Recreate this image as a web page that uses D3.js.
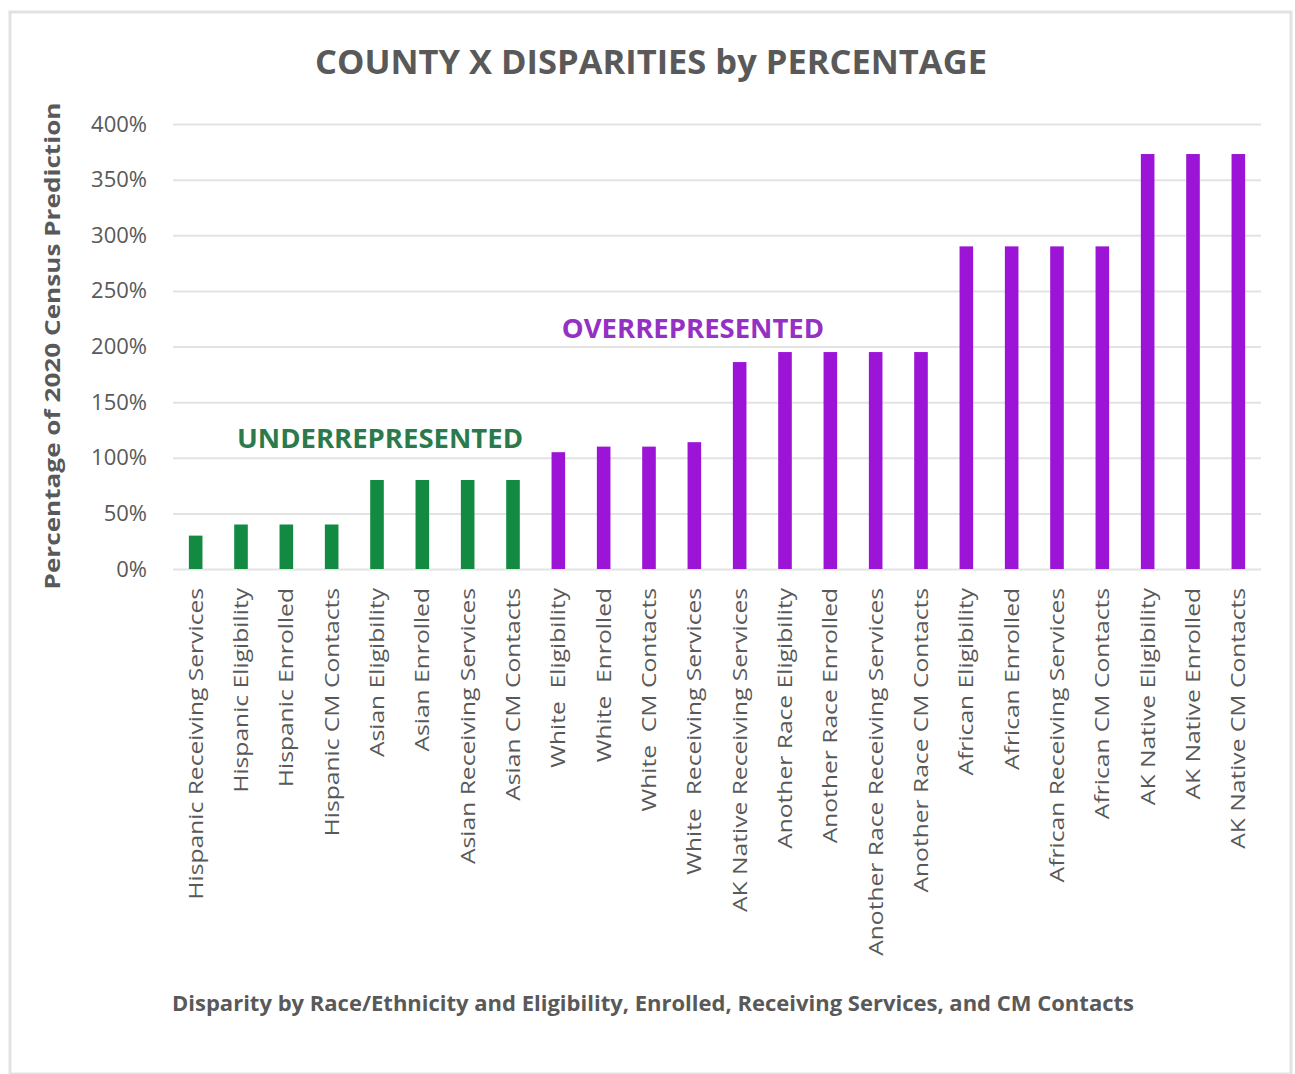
<!DOCTYPE html>
<html>
<head>
<meta charset="utf-8">
<script src="https://cdn.jsdelivr.net/npm/d3@7"></script>
<style>
  html, body { margin: 0; padding: 0; background: #ffffff; }
  svg { display: block; }
  text { font-family: "Open Sans", "Noto Sans", sans-serif; }
</style>
</head>
<body>
<svg id="chart" width="1295" height="1074"></svg>
<script>
// Category labels, left to right
const categories = [
  "Hispanic Receiving Services", "Hispanic Eligibility", "Hispanic Enrolled", "Hispanic CM Contacts",
  "Asian Eligibility", "Asian Enrolled", "Asian Receiving Services", "Asian CM Contacts",
  "White  Eligibility", "White  Enrolled", "White  CM Contacts", "White  Receiving Services",
  "AK Native Receiving Services", "Another Race Eligibility", "Another Race Enrolled",
  "Another Race Receiving Services", "Another Race CM Contacts",
  "African Eligibility", "African Enrolled", "African Receiving Services", "African CM Contacts",
  "AK Native Eligibility", "AK Native Enrolled", "AK Native CM Contacts"
];
// Percentage of the 2020 census prediction
const values = [30, 40, 40, 40, 80, 80, 80, 80, 105, 110, 110, 114, 186, 195, 195, 195, 195, 290, 290, 290, 290, 373, 373, 373];
// Representation group for each bar
const groups = ["under", "under", "under", "under", "under", "under", "under", "under",
  "over", "over", "over", "over", "over", "over", "over", "over", "over",
  "over", "over", "over", "over", "over", "over", "over"];
const yTicks = [0, 50, 100, 150, 200, 250, 300, 350, 400];
const groupColors = { under: "#138a41", over: "#9c14d6" };
const groupLabelColors = { under: "#2a7a4c", over: "#9530c4" };

const svg = d3.select("#chart");
const margin = { left: 173, right: 1261, top: 124, bottom: 569 };

const x = d3.scaleBand().domain(categories).range([margin.left, margin.right])
  .paddingInner(0.7).paddingOuter(0.35);
const y = d3.scaleLinear().domain([0, 400]).range([margin.bottom, margin.top]);

// Vertical text runs a bit longer than its glyph size would give
const stretch = 1.33;
function elongate(sel, factor) {
  sel.each(function () {
    const len = this.getComputedTextLength();
    d3.select(this).attr("textLength", len * factor).attr("lengthAdjust", "spacingAndGlyphs");
  });
}

// Outer frame
svg.append("rect")
  .attr("x", 10).attr("y", 12).attr("width", 1281).attr("height", 1062)
  .attr("fill", "none").attr("stroke", "#e2e2e2").attr("stroke-width", 3);

// Title
svg.append("text")
  .attr("x", 651).attr("y", 74)
  .attr("text-anchor", "middle")
  .attr("font-size", 34.5).attr("font-weight", 700)
  .attr("fill", "#595959")
  .text("COUNTY X DISPARITIES by PERCENTAGE");

// Gridlines and y tick labels
const yAxis = d3.axisLeft(y)
  .tickValues(yTicks)
  .tickSize(-(margin.right - margin.left))
  .tickPadding(26)
  .tickFormat(d => d + "%");
const gy = svg.append("g").attr("transform", `translate(${margin.left},0)`).call(yAxis);
gy.select(".domain").remove();
gy.selectAll(".tick line").attr("stroke", "#e3e3e3").attr("stroke-width", 2);
gy.selectAll(".tick text")
  .attr("fill", "#595959").attr("font-size", 22)
  .attr("font-family", "'Open Sans', sans-serif");

// Bars
svg.append("g").selectAll("rect")
  .data(categories)
  .join("rect")
  .attr("x", d => x(d))
  .attr("width", x.bandwidth())
  .attr("y", (d, i) => y(values[i]))
  .attr("height", (d, i) => y(0) - y(values[i]))
  .attr("fill", (d, i) => groupColors[groups[i]]);

// Rotated category labels
const xAxis = d3.axisBottom(x).tickSize(0).tickPadding(0);
const gx = svg.append("g").attr("transform", `translate(0,${margin.bottom})`).call(xAxis);
gx.select(".domain").remove();
gx.selectAll(".tick text")
  .attr("font-size", 19.5)
  .attr("font-family", "'Open Sans', sans-serif")
  .attr("fill", "#595959")
  .attr("text-anchor", "end")
  .attr("transform", "rotate(-90)")
  .attr("x", -19).attr("y", 0).attr("dy", "0.36em")
  .style("white-space", "pre");
elongate(gx.selectAll(".tick text"), stretch * 18.5 / 19.5);

// Group annotations
svg.append("text")
  .attr("x", 380).attr("y", 448)
  .attr("text-anchor", "middle")
  .attr("font-size", 27.5).attr("font-weight", 700)
  .attr("fill", groupLabelColors.under)
  .text("UNDERREPRESENTED");
svg.append("text")
  .attr("x", 693).attr("y", 338)
  .attr("text-anchor", "middle")
  .attr("font-size", 27.5).attr("font-weight", 700)
  .attr("fill", groupLabelColors.over)
  .text("OVERREPRESENTED");

// Axis titles
const yTitle = svg.append("text")
  .attr("transform", "translate(60,346) rotate(-90)")
  .attr("text-anchor", "middle")
  .attr("font-size", 22).attr("font-weight", 700)
  .attr("fill", "#595959")
  .text("Percentage of 2020 Census Prediction");
yTitle.attr("textLength", 487).attr("lengthAdjust", "spacingAndGlyphs");

svg.append("text")
  .attr("x", 653).attr("y", 1011)
  .attr("text-anchor", "middle")
  .attr("font-size", 22).attr("font-weight", 700)
  .attr("fill", "#595959")
  .text("Disparity by Race/Ethnicity and Eligibility, Enrolled, Receiving Services, and CM Contacts");
</script>
</body>
</html>
